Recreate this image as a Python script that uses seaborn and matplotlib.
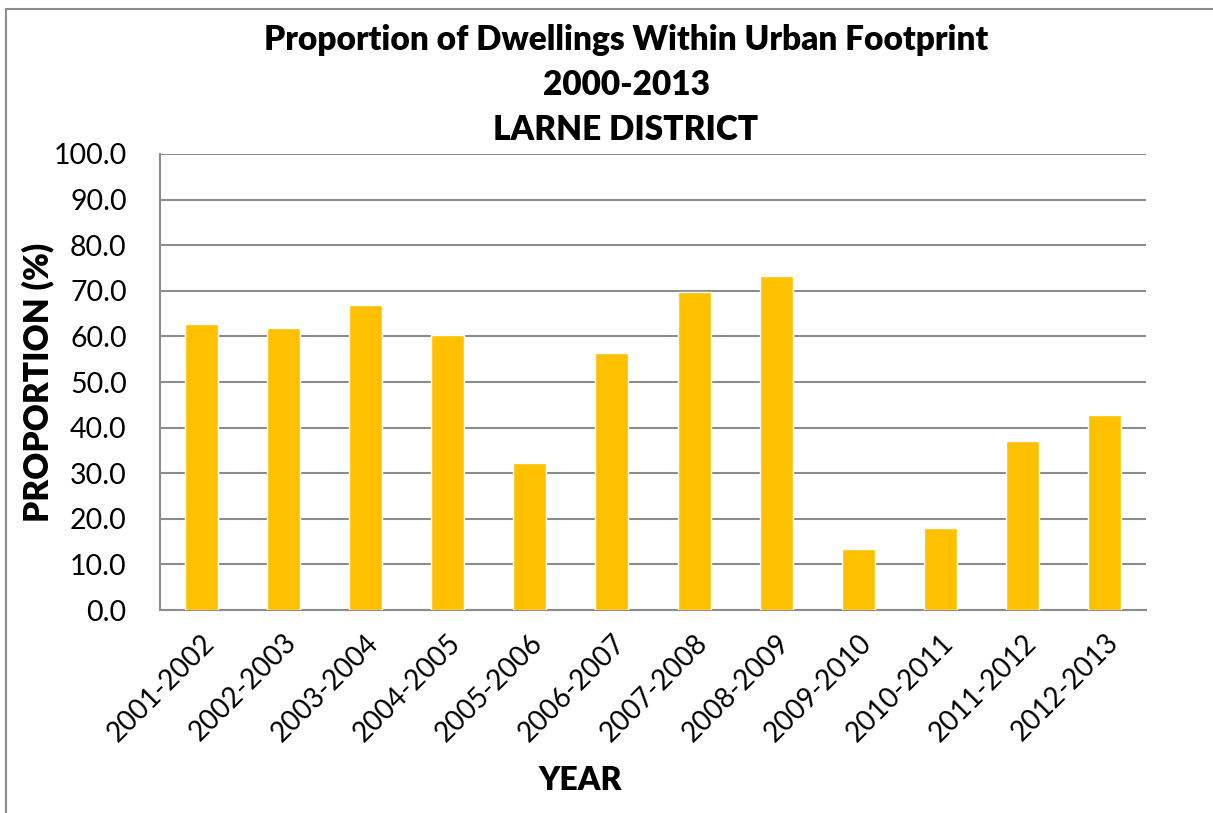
import matplotlib
matplotlib.use("Agg")
import matplotlib.pyplot as plt
from matplotlib.patches import Rectangle
import seaborn as sns
import pandas as pd
import numpy as np

years = ["2001-2002", "2002-2003", "2003-2004", "2004-2005", "2005-2006", "2006-2007",
         "2007-2008", "2008-2009", "2009-2010", "2010-2011", "2011-2012", "2012-2013"]
proportion = [62.8, 61.8, 66.9, 60.2, 32.2, 56.4, 69.7, 73.3, 13.4, 18.0, 37.1, 42.8]
title_lines = ["Proportion of Dwellings Within Urban Footprint", "2000-2013", "LARNE DISTRICT"]

sns.set_theme(style="white")
plt.rcParams["font.family"] = ["Lato", "DejaVu Sans"]
plt.rcParams["text.color"] = "black"

W, H = 1213, 813
fig = plt.figure(figsize=(W / 100, H / 100), dpi=100)
fig.patch.set_facecolor("white")

# outer chart frame
fig.patches.append(Rectangle((6 / W, -0.05), 1.2, (H - 9) / H + 0.05,
                             transform=fig.transFigure, fill=False,
                             edgecolor="#8c8c8c", linewidth=1.5, zorder=0))

L, R, T, B = 160, 1146, 154, 610
ax = fig.add_axes([L / W, (H - B) / H, (R - L) / W, (B - T) / H])

df = pd.DataFrame({"year": years, "proportion": proportion})
sns.barplot(data=df, x="year", y="proportion", color="#FFC000", saturation=1,
            width=0.40, ax=ax, zorder=3)

ax.set_ylim(0, 100)
ax.set_xlim(-0.5, len(years) - 0.5)
ax.set_yticks(np.arange(0, 101, 10))
ax.set_yticklabels([f"{v:.1f}" for v in np.arange(0, 101, 10)], fontsize=20.5)
ax.yaxis.grid(True, color="#8c8c8c", linewidth=1.5, zorder=0)
ax.set_axisbelow(True)

# category ticks sit between bars
ax.set_xticks(np.arange(len(years)))
ax.set_xticklabels(years, rotation=45, ha="right", va="top",
                   rotation_mode="anchor", fontsize=20)
ax.set_xticks(np.arange(-0.5, len(years)), minor=True)
ax.tick_params(axis="x", which="major", length=0, pad=14)
ax.tick_params(axis="x", which="minor", length=9, width=1.5, color="#8c8c8c", direction="out")
ax.tick_params(axis="y", length=10, width=1.5, color="#8c8c8c", direction="out", pad=14)
ax.tick_params(axis="both", labelcolor="black")

for s in ["top", "right"]:
    ax.spines[s].set_visible(False)
for s in ["left", "bottom"]:
    ax.spines[s].set_color("#8c8c8c")
    ax.spines[s].set_linewidth(1.5)

ax.set_xlabel("")
ax.set_ylabel("")
fig.text(38 / W, 1 - 382 / H, "PROPORTION (%)", rotation=90, ha="center", va="center",
         fontsize=24, fontweight="heavy", color="black")
fig.text(580 / W, 1 - 780 / H, "YEAR", ha="center", va="center",
         fontsize=23, fontweight="heavy", color="black")

for i, line in enumerate(title_lines):
    fig.text(626 / W, 1 - (40 + i * 45) / H, line, ha="center", va="center",
             fontsize=24, fontweight="heavy", color="black")

fig.savefig("out.png", dpi=100, facecolor="white")
